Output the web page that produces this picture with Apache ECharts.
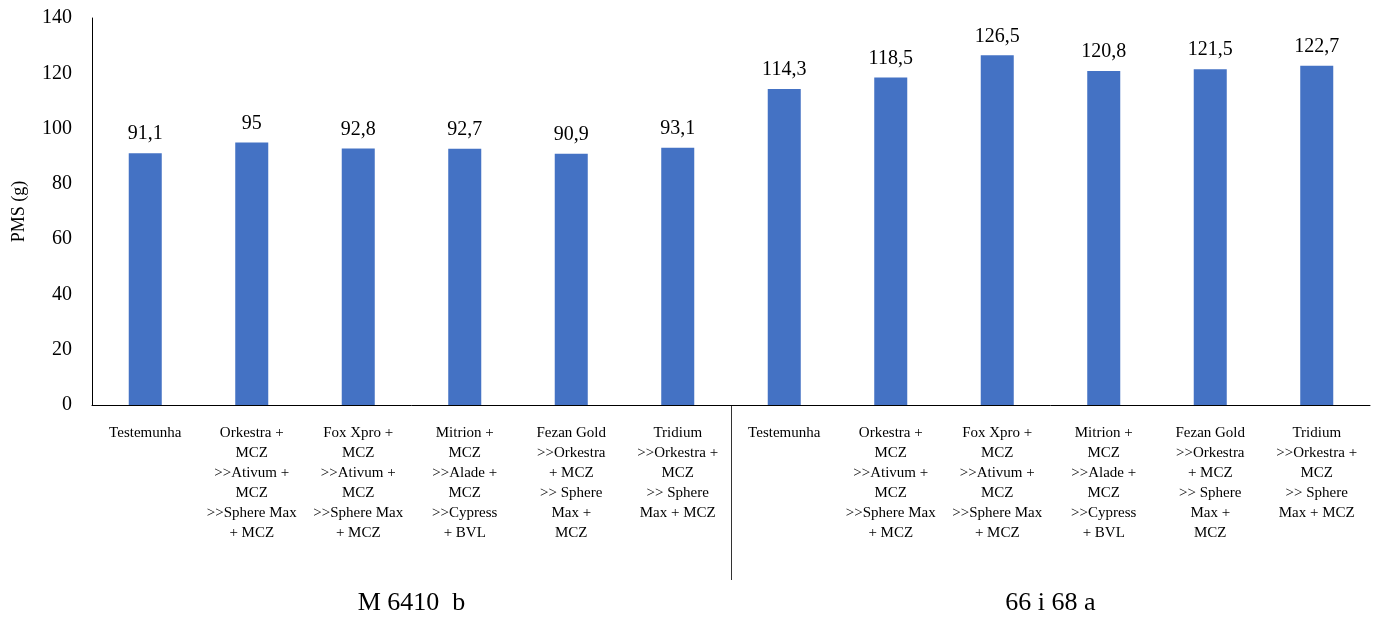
<!DOCTYPE html>
<html lang="pt">
<head>
<meta charset="utf-8">
<title>PMS (g)</title>
<style>
  html, body { margin: 0; padding: 0; background: #fff; }
  #main { width: 1378px; height: 620px; }
</style>
</head>
<body>
<div id="main"></div>
<script src="https://cdn.jsdelivr.net/npm/echarts@6/dist/echarts.min.js"></script>
<script>
// categorias (tratamentos), repetidas para cada híbrido
var treatments = [
    'Testemunha',
    'Orkestra +\nMCZ\n>>Ativum +\nMCZ\n>>Sphere Max\n+ MCZ',
    'Fox Xpro +\nMCZ\n>>Ativum +\nMCZ\n>>Sphere Max\n+ MCZ',
    'Mitrion +\nMCZ\n>>Alade +\nMCZ\n>>Cypress\n+ BVL',
    'Fezan Gold\n>>Orkestra\n+ MCZ\n>> Sphere\nMax +\nMCZ',
    'Tridium\n>>Orkestra +\nMCZ\n>> Sphere\nMax + MCZ'
];
var groups = ['M 6410  b', '66 i 68 a'];
var pmsValues = [91.1, 95, 92.8, 92.7, 90.9, 93.1, 114.3, 118.5, 126.5, 120.8, 121.5, 122.7];
var yTicks = [0, 20, 40, 60, 80, 100, 120, 140];

var categories = [];
for (var g = 0; g < groups.length; g++) {
    for (var t = 0; t < treatments.length; t++) {
        categories.push({ value: g + '_' + t, label: treatments[t] });
    }
}
var catLabels = {};
categories.forEach(function (c) { catLabels[c.value] = c.label; });

var font = '"Liberation Serif", "Times New Roman", serif';
var myChart = echarts.init(document.getElementById('main'));

myChart.setOption({
    backgroundColor: '#ffffff',
    animation: false,
    textStyle: { fontFamily: font, color: '#000' },
    grid: { left: 92, right: 8, top: 18, bottom: 215 },
    xAxis: [{
        type: 'category',
        data: categories.map(function (c) { return c.value; }),
        axisLine: { lineStyle: { color: '#000', width: 1 } },
        axisTick: { show: false },
        axisLabel: {
            interval: 0,
            margin: 18,
            fontFamily: font,
            fontSize: 15,
            lineHeight: 20,
            color: '#000',
            formatter: function (v) { return catLabels[v]; }
        }
    }, {
        type: 'category',
        data: groups,
        position: 'bottom',
        offset: 176,
        axisLine: { show: false },
        axisTick: { show: false },
        axisLabel: {
            interval: 0,
            margin: 8,
            fontFamily: font,
            fontSize: 26,
            lineHeight: 28,
            color: '#000'
        }
    }],
    yAxis: {
        type: 'value',
        min: yTicks[0],
        max: yTicks[yTicks.length - 1],
        interval: 20,
        name: 'PMS (g)',
        nameLocation: 'middle',
        nameGap: 64,
        nameTextStyle: { fontFamily: font, fontSize: 18, color: '#000' },
        axisLine: { show: true, lineStyle: { color: '#000', width: 1 } },
        axisTick: { show: false },
        splitLine: { show: false },
        axisLabel: { margin: 20, fontFamily: font, fontSize: 20, color: '#000' }
    },
    series: [{
        type: 'bar',
        xAxisIndex: 0,
        data: pmsValues,
        barWidth: '31%',
        itemStyle: { color: '#4472C4' },
        label: {
            show: true,
            position: 'top',
            distance: 9,
            fontFamily: font,
            fontSize: 20,
            color: '#000',
            formatter: function (p) { return String(p.value).replace('.', ','); }
        }
    }]
});

// linha divisória entre os dois híbridos
var xa = myChart.convertToPixel({ xAxisIndex: 0 }, categories[treatments.length - 1].value);
var xb = myChart.convertToPixel({ xAxisIndex: 0 }, categories[treatments.length].value);
var y0 = myChart.convertToPixel({ yAxisIndex: 0 }, 0);
var xd = Math.round((xa + xb) / 2) + 0.5;
myChart.setOption({
    graphic: [{
        type: 'line',
        shape: { x1: xd, y1: y0, x2: xd, y2: y0 + 175 },
        style: { stroke: '#333', lineWidth: 1 }
    }]
});
</script>
</body>
</html>
